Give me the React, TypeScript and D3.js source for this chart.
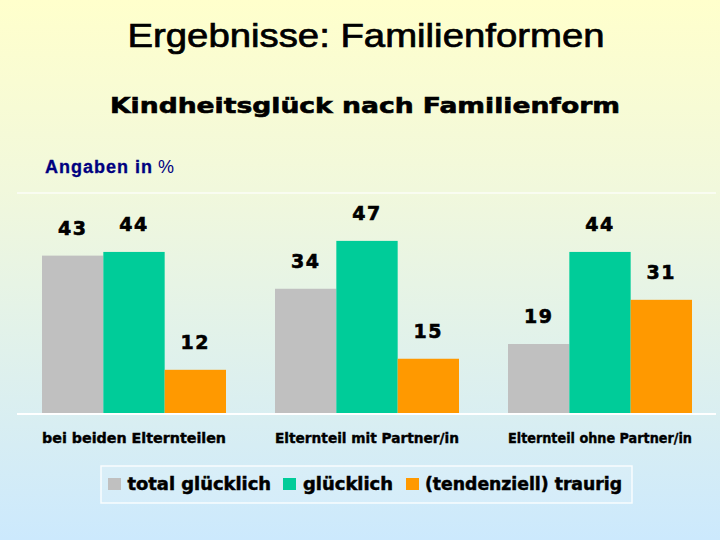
import React from "react";
import * as d3 from "d3";

const categories = ["bei beiden Elternteilen", "Elternteil mit Partner/in", "Elternteil ohne Partner/in"];
const seriesNames = ["total glücklich", "glücklich", "(tendenziell) traurig"];
const totalGluecklich = [43, 34, 19];
const gluecklich = [44, 47, 44];
const traurig = [12, 15, 31];
const seriesColors = ["#c0c0c0", "#00cc99", "#ff9900"];

const W = 720;
const H = 540;

export default function App() {
  const seriesValues = [totalGluecklich, gluecklich, traurig];
  const x0 = d3.scaleBand<string>().domain(categories).range([17.5, 716.5]).padding(0);
  const x1 = d3.scaleBand<string>().domain(seriesNames).range([24.5, 208.5]).padding(0);
  const y = d3.scaleLinear().domain([0, 60]).range([414, 193]);

  const bold = "'DejaVu Sans', sans-serif";

  return (
    <svg
      width={W}
      height={H}
      style={{ position: "absolute", left: 0, top: 0 }}
      xmlns="http://www.w3.org/2000/svg"
    >
      <defs>
        <linearGradient id="bg" x1="0" y1="0" x2="0" y2="1">
          <stop offset="0" stopColor="#ffffcc" />
          <stop offset="0.35" stopColor="#f1f8dc" />
          <stop offset="1" stopColor="#cce9fd" />
        </linearGradient>
      </defs>
      <rect x={0} y={0} width={W} height={H} fill="url(#bg)" />

      <text
        x={366}
        y={47}
        textAnchor="middle"
        fontFamily="'Liberation Sans', Arial, sans-serif"
        fontSize={33}
        textLength={477}
        lengthAdjust="spacingAndGlyphs"
        stroke="#000"
        strokeWidth={0.7}
        fill="#000"
      >
        Ergebnisse: Familienformen
      </text>

      <text
        x={365}
        y={113}
        textAnchor="middle"
        fontFamily={bold}
        fontWeight="bold"
        fontSize={21}
        textLength={510}
        lengthAdjust="spacingAndGlyphs"
        stroke="#000"
        strokeWidth={0.6}
        fill="#000"
      >
        Kindheitsglück nach Familienform
      </text>

      <text
        x={45}
        y={173}
        fontFamily="'Liberation Sans', Arial, sans-serif"
        fontSize={18}
        fill="#000080"
      >
        <tspan fontWeight="bold" letterSpacing={1} stroke="#000080" strokeWidth={0.3}>Angaben in</tspan>
        <tspan> %</tspan>
      </text>

      {/* grid line at top */}
      <line x1={17} x2={716} y1={y(60)} y2={y(60)} stroke="#ffffff" strokeOpacity={0.8} strokeWidth={1.5} />

      {categories.map((c, ci) => (
        <g key={c} transform={`translate(${x0(c)},0)`}>
          {seriesNames.map((s, si) => {
            const v = seriesValues[si][ci];
            const bx = x1(s)!;
            const bw = x1.bandwidth();
            return (
              <g key={s}>
                <rect x={bx} y={y(v)} width={bw} height={y(0) - y(v)} fill={seriesColors[si]} />
                <text
                  x={bx + bw / 2}
                  y={y(v) - 21}
                  textAnchor="middle"
                  fontFamily={bold}
                  fontWeight="bold"
                  fontSize={19}
                  stroke="#000"
                  strokeWidth={0.6}
                  letterSpacing={1.5}
                  fill="#000"
                >
                  {v}
                </text>
              </g>
            );
          })}
          <text
            x={x0.bandwidth() / 2}
            y={443}
            textAnchor="middle"
            fontFamily={bold}
            fontWeight="bold"
            fontSize={14}
            textLength={184}
            lengthAdjust="spacingAndGlyphs"
            stroke="#000"
            strokeWidth={0.4}
            fill="#000"
          >
            {c}
          </text>
        </g>
      ))}

      <line x1={17} x2={716} y1={y(0)} y2={y(0)} stroke="#ffffff" strokeWidth={2} />

      {/* legend */}
      <rect x={101} y={466} width={531} height={37} fill="#ffffff" fillOpacity={0.12} stroke="#ffffff" strokeOpacity={0.85} strokeWidth={1.5} />
      {[
        { sx: 108, tx: 127.5, tw: 143.5 },
        { sx: 283, tx: 303, tw: 90 },
        { sx: 406, tx: 425, tw: 197 },
      ].map((p, i) => (
        <g key={seriesNames[i]}>
          <rect x={p.sx} y={478} width={13} height={12} fill={seriesColors[i]} />
          <text
            x={p.tx}
            y={490}
            fontFamily={bold}
            fontWeight="bold"
            fontSize={17}
            textLength={p.tw}
            lengthAdjust="spacingAndGlyphs"
            stroke="#000"
            strokeWidth={0.5}
            fill="#000"
          >
            {seriesNames[i]}
          </text>
        </g>
      ))}
    </svg>
  );
}
